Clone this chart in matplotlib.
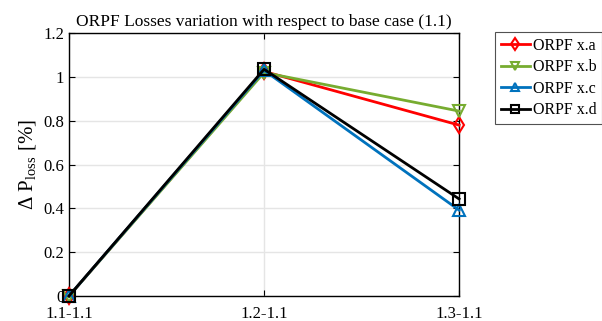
import matplotlib
matplotlib.use("Agg")
import matplotlib.pyplot as plt

plt.rcParams['font.family'] = ['Liberation Serif', 'DejaVu Serif']
plt.rcParams['mathtext.fontset'] = 'custom'
plt.rcParams['mathtext.rm'] = 'Liberation Serif'
plt.rcParams['mathtext.it'] = 'Liberation Serif'

categories = ['1.1-1.1', '1.2-1.1', '1.3-1.1']
series_names = ['ORPF x.a', 'ORPF x.b', 'ORPF x.c', 'ORPF x.d']
vals_a = [0.0, 1.025, 0.78]
vals_b = [0.0, 1.02, 0.844]
vals_c = [0.0, 1.03, 0.392]
vals_d = [0.0, 1.035, 0.443]
yticks = [0, 0.2, 0.4, 0.6, 0.8, 1, 1.2]
yticklabels = ['0', '0.2', '0.4', '0.6', '0.8', '1', '1.2']

colors = ['#ff0000', '#77ac30', '#0072bd', '#000000']
markers = ['d', 'v', '^', 's']

fig = plt.figure(figsize=(6.02, 3.21), dpi=100)
ax = fig.add_axes([0.1146, 0.0779, 0.648, 0.819])
x = list(range(len(categories)))
for vals, name, c, m in zip([vals_a, vals_b, vals_c, vals_d], series_names, colors, markers):
    ax.plot(x, vals, color=c, marker=m, markerfacecolor='none', markeredgecolor=c,
            markersize=8, markeredgewidth=1.5, linewidth=2, label=name, clip_on=False,
            zorder=3)

ax.set_xlim(0, 2)
ax.set_ylim(0, 1.2)
ax.set_xticks(x)
ax.set_xticklabels(categories)
ax.set_yticks(yticks)
ax.set_yticklabels(yticklabels)
ax.grid(True, color='#e5e5e5', linewidth=1)
ax.set_axisbelow(True)
ax.tick_params(direction='in', labelsize=12, length=4, top=True, right=True)
ax.tick_params(axis='x', pad=7)
for s in ax.spines.values():
    s.set_linewidth(1.0)
ax.set_title('ORPF Losses variation with respect to base case (1.1)', fontsize=12.5, pad=5)
ax.set_ylabel(r'$\Delta\ \mathrm{P}_{\mathrm{loss}}\ [\%]$', fontsize=15)

leg = ax.legend(loc='upper left', bbox_to_anchor=(1.092, 1.004), fontsize=11.5,
                frameon=True, fancybox=False, edgecolor='#262626', markerscale=0.75,
                handlelength=1.85, handletextpad=0.15, borderpad=0.35, labelspacing=0.35,
                borderaxespad=0)
leg.get_frame().set_linewidth(0.8)

fig.savefig('out.png', dpi=100)
